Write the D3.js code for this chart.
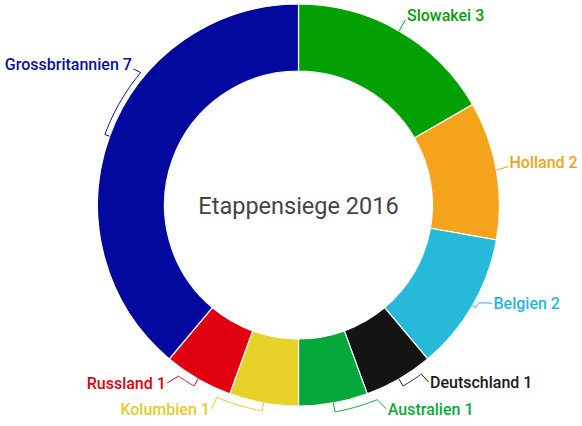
<!DOCTYPE html>
<html>
<head>
<meta charset="utf-8">
<script src="https://cdn.jsdelivr.net/npm/d3@7"></script>
<style>
  html, body { margin: 0; padding: 0; background: #fff; }
  svg { display: block; }
</style>
</head>
<body>
<svg id="chart" width="582" height="426"></svg>
<script>
// ---- data ----
const categories = ["Slowakei", "Holland", "Belgien", "Deutschland", "Australien", "Kolumbien", "Russland", "Grossbritannien"];
const values = [3, 2, 2, 1, 1, 1, 1, 7];
const title = "Etappensiege 2016";

// ---- styles ----
const sliceColors = ["#02a002", "#f4a31b", "#27b9da", "#141414", "#05a83a", "#e7d22a", "#e0000f", "#03089e"];
const labelColors = ["#0a9d0a", "#f2a11c", "#27b5d8", "#1a1a1a", "#0ca83c", "#e2cd2c", "#e0000f", "#0a0f9c"];

// ---- label layout (polar, degrees clockwise from 12 o'clock) ----
const labelLayout = [
  { tick: 0, arcTo: null,  endA: 30,    endR: 214,   anchor: "start", v: "base" },
  { tick: 0, arcTo: null,  endA: 79.6,  endR: 213,   anchor: "start", v: "base" },
  { tick: 4, arcTo: 118.5, endA: 116.9, endR: 217,   anchor: "start", v: "mid" },
  { tick: 8, arcTo: 144,   endA: 143.7, endR: 219.6, anchor: "start", v: "mid" },
  { tick: 9, arcTo: 158,   endA: 156.7, endR: 222,   anchor: "start", v: "mid" },
  { tick: 8, arcTo: 203,   endA: 203.1, endR: 222,   anchor: "end",   v: "mid" },
  { tick: 8, arcTo: 215,   endA: 216.4, endR: 221,   anchor: "end",   v: "mid" },
  { tick: 5, arcTo: 310,   endA: 309.5, endR: 214,   anchor: "end",   v: "base" }
];

const cx = 298.5, cy = 205, R = 201, r0 = 134;
const svg = d3.select("#chart");
const g = svg.append("g").attr("transform", `translate(${cx},${cy})`);

const data = categories.map((c, i) => ({ name: c, value: values[i], i }));
const pie = d3.pie().value(d => d.value).sort(null).startAngle(0).endAngle(2 * Math.PI);
const arcs = pie(data);
const arcGen = d3.arc().innerRadius(r0).outerRadius(R);

g.selectAll("path.slice")
  .data(arcs)
  .join("path")
  .attr("class", "slice")
  .attr("d", arcGen)
  .attr("fill", d => sliceColors[d.data.i])
  .attr("stroke", "#fff")
  .attr("stroke-width", 1.2);

const rad = deg => deg * Math.PI / 180;
const pt = (a, r) => [r * Math.sin(a), -r * Math.cos(a)];

arcs.forEach(d => {
  const i = d.data.i;
  const L = labelLayout[i];
  const mid = (d.startAngle + d.endAngle) / 2;
  const pts = [pt(mid, R)];
  if (L.tick > 0) {
    const rr = R + L.tick;
    pts.push(pt(mid, rr));
    if (L.arcTo !== null) {
      const a1 = rad(L.arcTo);
      const n = 24;
      for (let k = 1; k <= n; k++) {
        pts.push(pt(mid + (a1 - mid) * k / n, rr));
      }
    }
  }
  const end = pt(rad(L.endA), L.endR);
  pts.push(end);
  g.append("path")
    .attr("d", d3.line()(pts))
    .attr("fill", "none")
    .attr("stroke", labelColors[i])
    .attr("stroke-width", 1);
  const dx = L.anchor === "start" ? 1.5 : -1.5;
  const dy = L.v === "base" ? 1 : 6;
  g.append("text")
    .attr("x", end[0] + dx)
    .attr("y", end[1] + dy)
    .attr("text-anchor", L.anchor)
    .attr("font-family", "Roboto, 'Noto Sans', sans-serif")
    .attr("font-weight", 500)
    .attr("font-size", 16)
    .attr("fill", labelColors[i])
    .text(`${d.data.name} ${d.data.value}`);
});

g.append("text")
  .attr("x", 0)
  .attr("y", 9)
  .attr("text-anchor", "middle")
  .attr("font-family", "Roboto, 'Noto Sans', sans-serif")
  .attr("font-size", 23.5)
  .attr("fill", "#444")
  .text(title);
</script>
</body>
</html>
